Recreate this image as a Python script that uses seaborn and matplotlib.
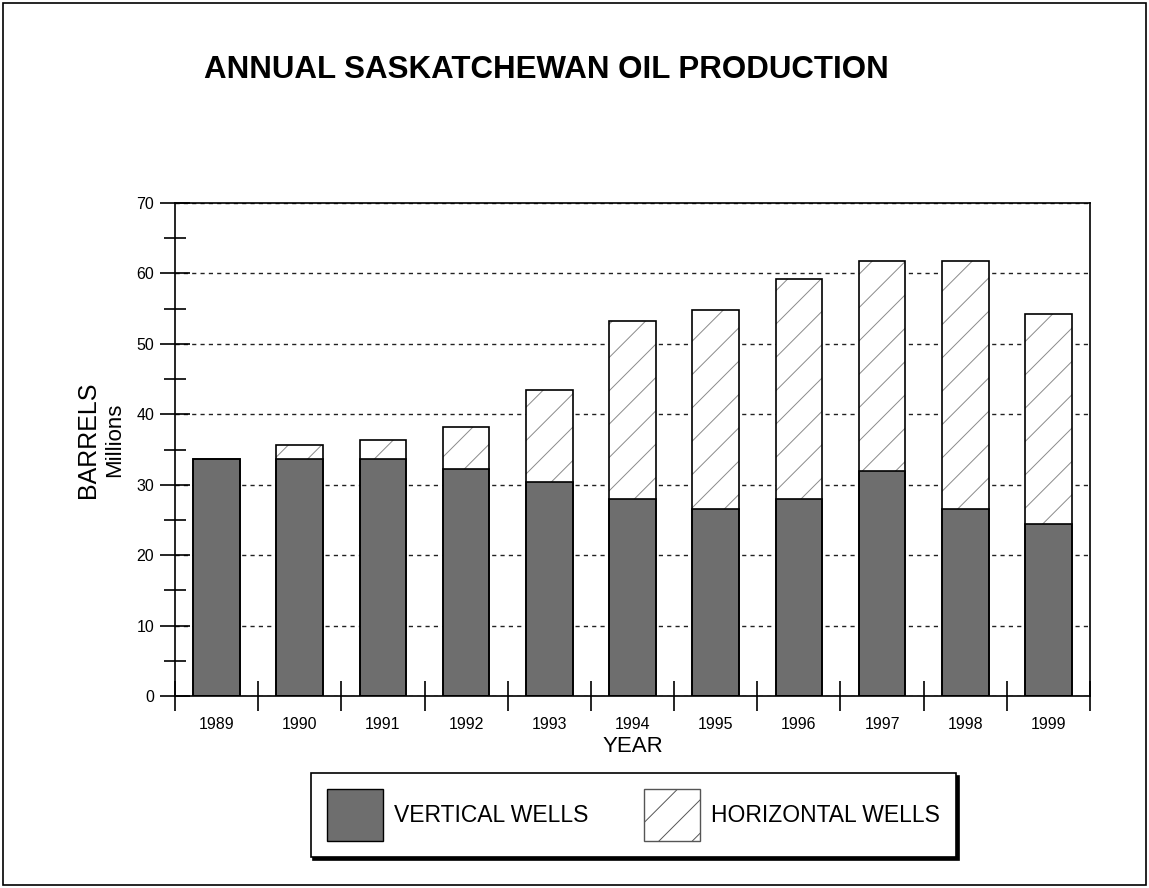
import matplotlib
matplotlib.use('Agg')
import matplotlib.pyplot as plt
import seaborn as sns
import pandas as pd
from matplotlib.patches import Patch, Rectangle
from matplotlib.ticker import MultipleLocator, FixedLocator

# Dados (milhões de barris)
years = ['1989', '1990', '1991', '1992', '1993', '1994', '1995', '1996', '1997', '1998', '1999']
vertical = [33.6, 33.7, 33.6, 32.3, 30.4, 28.0, 26.5, 28.0, 31.9, 26.5, 24.4]
horizontal = [0.0, 1.9, 2.7, 5.9, 13.0, 25.3, 28.3, 31.2, 29.9, 35.3, 29.9]

df = pd.DataFrame({'year': years, 'vertical': vertical, 'horizontal': horizontal})
df['total'] = df['vertical'] + df['horizontal']

sns.set_style('white')
plt.rcParams['font.family'] = ['Liberation Sans', 'DejaVu Sans']
plt.rcParams['text.color'] = 'black'
plt.rcParams['axes.labelcolor'] = 'black'
plt.rcParams['xtick.color'] = 'black'
plt.rcParams['ytick.color'] = 'black'
plt.rcParams['hatch.linewidth'] = 0.7

dark = '#6e6e6e'

fig = plt.figure(figsize=(11.49, 8.88), dpi=100)
ax = fig.add_axes([0.1523, 0.2162, 0.7964, 0.5552])

# barras empilhadas: total (horizontais) atrás, verticais na frente
sns.barplot(data=df, x='year', y='total', color='white', width=0.56,
            edgecolor='#8a8a8a', linewidth=0, ax=ax)
for p in ax.patches:
    p.set_hatch('/')
sns.barplot(data=df, x='year', y='vertical', color=dark, width=0.56,
            edgecolor='black', linewidth=1.2, saturation=1, ax=ax)
sns.barplot(data=df, x='year', y='total', color='black', width=0.56,
            fill=False, linewidth=1.2, ax=ax)

ax.set_xlim(-0.5, 10.5)
ax.set_ylim(0, 70)
ax.yaxis.set_major_locator(MultipleLocator(10))
ax.yaxis.set_minor_locator(MultipleLocator(5))
ax.xaxis.set_minor_locator(FixedLocator([i + 0.5 for i in range(-1, 11)]))
ax.tick_params(which='both', left=True, bottom=True)
ax.tick_params(axis='y', which='major', direction='inout', length=22, width=1.2,
               labelsize=11.5, pad=4)
ax.tick_params(axis='y', which='minor', direction='inout', length=16, width=1.2)
ax.tick_params(axis='x', which='major', length=0, labelsize=11.5, pad=15)
ax.tick_params(axis='x', which='minor', direction='inout', length=22, width=1.2)
ax.yaxis.grid(True, which='major', color='#222222', linestyle=(0, (3, 3)), linewidth=1)
ax.set_axisbelow(True)
for s in ax.spines.values():
    s.set_color('black')
    s.set_linewidth(1.2)

ax.set_xlabel('YEAR', fontsize=16, labelpad=3)
ax.set_ylabel('')
fig.text(0.077, 0.505, 'BARRELS', rotation=90, fontsize=18, ha='center', va='center')
fig.text(0.1, 0.505, 'Millions', rotation=90, fontsize=16, ha='center', va='center')

fig.text(0.4756, 0.921, 'ANNUAL SASKATCHEWAN OIL PRODUCTION', fontsize=22.5,
         fontweight='bold', ha='center', va='center')

handles = [Patch(facecolor=dark, edgecolor='black', linewidth=1.0),
           Patch(facecolor='white', edgecolor='#555555', hatch='/', linewidth=1.0)]
leg = fig.legend(handles, ['VERTICAL WELLS', 'HORIZONTAL WELLS'], loc='center',
                 bbox_to_anchor=(0.5513, 0.0822), ncol=2, fontsize=16.5,
                 handlelength=2.45, handleheight=3.1, handletextpad=0.5,
                 columnspacing=2.4, borderpad=0.7, fancybox=False,
                 shadow={'color': 'black', 'alpha': 1}, framealpha=1)
leg.get_frame().set_edgecolor('black')
leg.get_frame().set_linewidth(1.2)

# moldura externa
fig.patches.append(Rectangle((0.003, 0.003), 0.994, 0.994, transform=fig.transFigure,
                             fill=False, edgecolor='black', linewidth=1.2))

fig.savefig('out.png', dpi=100)
